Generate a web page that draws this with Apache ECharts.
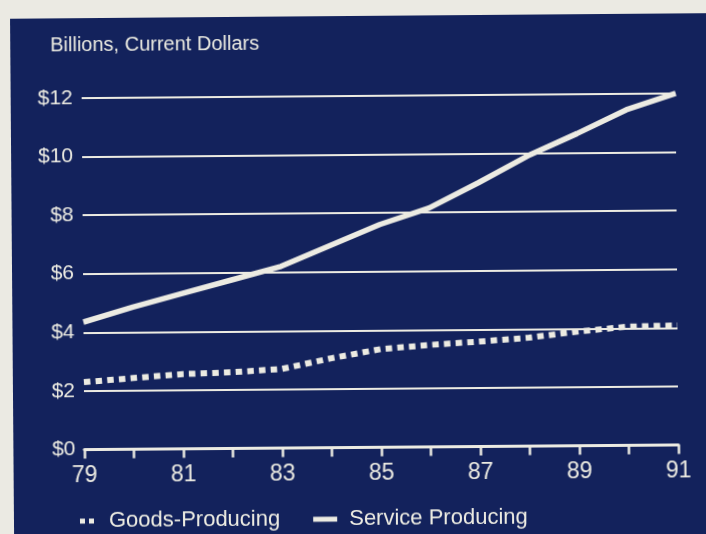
<!DOCTYPE html>
<html>
<head>
<meta charset="utf-8">
<script src="https://cdn.jsdelivr.net/npm/echarts@6/dist/echarts.min.js"></script>
<style>
  html, body { margin: 0; padding: 0; width: 706px; height: 534px; overflow: hidden; background: #ebeae3; }
  #wrap { position: absolute; left: 0; top: 0; width: 706px; height: 534px; transform: rotate(-0.45deg); transform-origin: 353px 267px; }
  #panel { position: absolute; left: 12px; top: 15.5px; width: 760px; height: 600px; background: #13225c; }
  #chart { position: absolute; left: 0; top: 0; width: 706px; height: 534px; }
</style>
</head>
<body>
<div id="wrap">
  <div id="panel"></div>
  <div id="chart"></div>
</div>
<script>
// Years on the horizontal axis (two-digit labels)
const years = ['79', '80', '81', '82', '83', '84', '85', '86', '87', '88', '89', '90', '91'];
// Billions of current dollars
const goodsProducing = [2.3, 2.43, 2.55, 2.6, 2.7, 3.05, 3.35, 3.48, 3.58, 3.7, 3.9, 4.05, 4.08];
const serviceProducing = [4.35, 4.85, 5.3, 5.75, 6.2, 6.9, 7.6, 8.15, 9.0, 9.9, 10.65, 11.45, 12.0];
// Vertical axis ticks
const yTicks = [0, 2, 4, 6, 8, 10, 12];

const ink = '#ecebe2';
const font = "'Liberation Sans', Arial, sans-serif";

const chart = echarts.init(document.getElementById('chart'), null, { renderer: 'canvas' });

chart.setOption({
  backgroundColor: 'transparent',
  animation: false,
  title: {
    text: 'Billions, Current Dollars',
    left: 52,
    top: 33,
    padding: 0,
    textStyle: { color: ink, fontFamily: font, fontSize: 20, fontWeight: 'normal' }
  },
  legend: {
    left: 78,
    top: 508,
    padding: 0,
    itemWidth: 24,
    itemHeight: 5,
    itemGap: 33,
    textStyle: { color: ink, fontFamily: font, fontSize: 22 },
    data: [
      { name: 'Goods-Producing', icon: 'path://M0,0h5v5h-5zM9,0h5v5h-5zM24,0', itemStyle: { color: ink, borderWidth: 0 } },
      { name: 'Service Producing', icon: 'rect', itemStyle: { color: ink, borderWidth: 0 }, textStyle: { padding: [0, 0, 0, 7] } }
    ]
  },
  grid: { left: 83, right: 29, top: 95.8, bottom: 86.5 },
  xAxis: {
    type: 'category',
    data: years,
    boundaryGap: false,
    axisLine: { show: true, lineStyle: { color: ink, width: 3 } },
    axisTick: { show: true, interval: 0, length: 9, lineStyle: { color: ink, width: 2.5 } },
    axisLabel: { interval: 1, margin: 15, color: ink, fontFamily: font, fontSize: 23 },
    splitLine: { show: false }
  },
  yAxis: {
    type: 'value',
    min: yTicks[0],
    max: yTicks[yTicks.length - 1],
    interval: yTicks[1] - yTicks[0],
    axisLine: { show: false },
    axisTick: { show: false },
    axisLabel: { margin: 9, color: ink, fontFamily: font, fontSize: 21, formatter: v => '$' + v },
    splitLine: { show: true, lineStyle: { color: ink, width: 2 } }
  },
  series: [
    {
      name: 'Goods-Producing',
      type: 'line',
      data: goodsProducing,
      showSymbol: false,
      symbol: 'none',
      color: ink,
      lineStyle: { color: ink, width: 6, type: [6.5, 5.2], cap: 'butt' },
      z: 3
    },
    {
      name: 'Service Producing',
      type: 'line',
      data: serviceProducing,
      showSymbol: false,
      symbol: 'none',
      color: ink,
      lineStyle: { color: ink, width: 5.5, cap: 'butt', join: 'round' },
      z: 4
    }
  ]
});
</script>
</body>
</html>
